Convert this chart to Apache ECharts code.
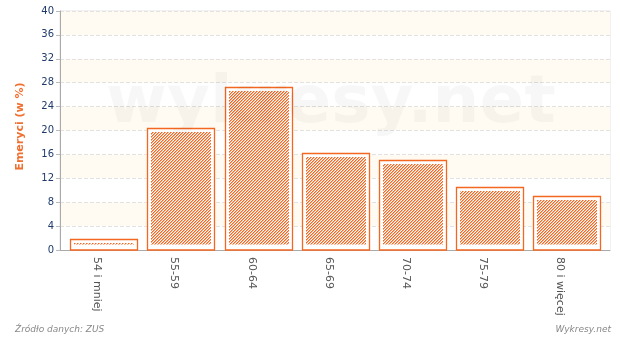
<!DOCTYPE html>
<html><head><meta charset="utf-8">
<script src="https://cdn.jsdelivr.net/npm/echarts@6/dist/echarts.min.js"></script>
<style>html,body{margin:0;padding:0;background:#fff}#c{width:620px;height:337px}</style>
</head><body><div id="c"></div>
<script>
const categories = ['54 i mniej','55-59','60-64','65-69','70-74','75-79','80 i więcej'];
const values = [1.8, 20.5, 27.3, 16.3, 15.0, 10.5, 9.0];
const yTicks = {min:0, max:40, interval:4};
const yName = 'Emeryci (w %)';
const sourceText = 'Źródło danych: ZUS';
const brandText = 'Wykresy.net';
const watermark = 'wykresy.net';

const orange = '#f46720';
const pc = document.createElement('canvas');
pc.width = 3; pc.height = 3;
const g = pc.getContext('2d');
g.fillStyle = '#fff'; g.fillRect(0,0,3,3);
g.fillStyle = orange;
for (let i=0;i<3;i++){ g.fillRect(i,2-i,1,1); }
g.globalAlpha=0.55;
for (let i=0;i<3;i++){ g.fillRect((i+1)%3,2-i,1,1); }

const chart = echarts.init(document.getElementById('c'), null, {renderer:'canvas'});
chart.setOption({
  animation:false,
  grid:[
    {left:60,right:10,top:11,bottom:87,show:true,borderColor:'#e4e4e4',borderWidth:1},
    {left:65,right:14.6,top:11,bottom:87},
    {left:58.4,right:21.2,top:11,bottom:87}
  ],
  graphic:[
    {type:'text',left:106,top:72,z:100,silent:true,style:{text:watermark,font:'bold 66px "DejaVu Sans", sans-serif',fill:'rgba(0,0,0,0.032)'}},
    {type:'text',left:15,top:325,style:{text:sourceText,font:'italic 9px "DejaVu Sans", sans-serif',fill:'#888'}},
    {type:'text',right:9,top:325,style:{text:brandText,font:'italic 9px "DejaVu Sans", sans-serif',fill:'#888'}}
  ],
  xAxis:[
    {type:'value',gridIndex:0,min:0,max:1,axisLine:{show:true,lineStyle:{color:'#aaa'}},
      axisTick:{show:false},axisLabel:{show:false},splitLine:{show:false}},
    {type:'category',gridIndex:1,data:categories,
      axisLine:{show:false},axisTick:{show:false},axisLabel:{show:false}},
    {type:'category',gridIndex:2,data:categories,
      axisLine:{show:false},axisTick:{show:false},
      axisLabel:{rotate:-90,color:'#555',fontSize:11,fontFamily:'DejaVu Sans',margin:7}}
  ],
  yAxis:[
    {type:'value',gridIndex:0,min:yTicks.min,max:yTicks.max,interval:yTicks.interval,
      name:yName,nameLocation:'middle',nameGap:34,nameRotate:90,
      nameTextStyle:{color:'#f07030',fontWeight:'bold',fontSize:11,fontFamily:'DejaVu Sans',padding:[0,0,0,8]},
      axisLine:{show:true,lineStyle:{color:'#aaa'}},axisTick:{show:true,length:4,lineStyle:{color:'#bbb'}},
      axisLabel:{color:'#1f3b6b',fontSize:10,fontFamily:'DejaVu Sans',margin:6},
      splitLine:{lineStyle:{color:'#e2e2e2',type:'dashed'}},
      splitArea:{show:true,areaStyle:{color:['#ffffff','#fffbf2']}}},
    {type:'value',gridIndex:1,min:yTicks.min,max:yTicks.max,interval:yTicks.interval,show:false},
    {type:'value',gridIndex:2,min:yTicks.min,max:yTicks.max,interval:yTicks.interval,show:false}
  ],
  series:[{
    type:'custom',
    xAxisIndex:1,yAxisIndex:1,
    data:values.map((v,i)=>[i,v]),
    encode:{x:0,y:1},
    renderItem:function(params,api){
      const top = api.coord([api.value(0), api.value(1)]);
      const base = api.coord([api.value(0), 0]);
      const w = Math.round(api.size([1,0])[0]*0.868);
      const x = Math.round(top[0]-w/2)+0.5;
      const y = Math.round(top[1])+0.5;
      const h = Math.round(base[1])-y;
      return {type:'group',children:[
        {type:'rect',shape:{x:x,y:y,width:w,height:h},style:{fill:'#fff',stroke:orange,lineWidth:1.3}},
        {type:'rect',shape:{x:x+3.5,y:y+3.5,width:w-7,height:Math.max(h-9,1)},style:{fill:{image:pc,repeat:'repeat'},stroke:null}}
      ]};
    }
  }]
});
</script></body></html>
